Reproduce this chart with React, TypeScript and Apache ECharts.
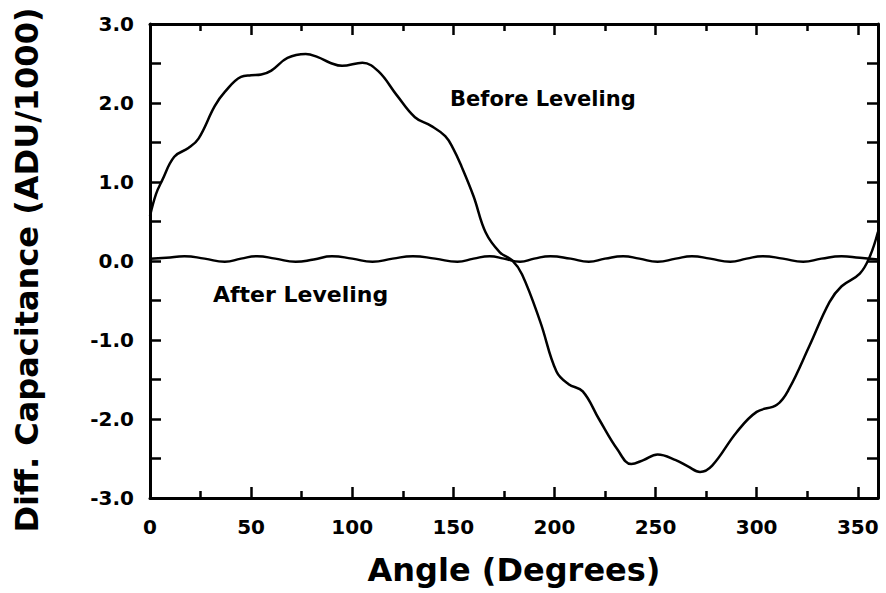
import React, { useEffect, useRef } from "react";
import * as echarts from "echarts";

const beforeAngles = [0, 3, 6, 12, 19, 24, 32, 37, 45, 50, 55, 60, 68, 77, 83, 89, 95, 105, 113, 122, 131, 139, 146, 150, 154, 160, 166, 173, 179, 184, 193, 201, 207, 214, 222, 231, 238, 244, 251, 260, 266, 272, 278, 290, 300, 310, 316, 326, 336, 342, 351, 356, 360];
const beforeValues = [0.57, 0.85, 1.02, 1.32, 1.43, 1.55, 1.96, 2.14, 2.33, 2.35, 2.36, 2.41, 2.57, 2.62, 2.58, 2.51, 2.47, 2.51, 2.40, 2.10, 1.82, 1.71, 1.58, 1.42, 1.20, 0.82, 0.36, 0.11, 0.01, -0.17, -0.77, -1.40, -1.56, -1.65, -2.00, -2.38, -2.57, -2.52, -2.45, -2.52, -2.60, -2.67, -2.59, -2.17, -1.91, -1.82, -1.62, -1.08, -0.52, -0.32, -0.16, 0.06, 0.37];

const afterAngles = [0, 8, 17, 27, 37, 45, 53, 62, 72, 81, 90, 100, 110, 120, 130, 141, 152, 160, 168, 175, 183, 190, 198, 208, 217, 225, 234, 242, 251, 260, 268, 277, 287, 295, 303, 313, 323, 332, 342, 351, 360];
const afterValues = [0.03, 0.04, 0.06, 0.03, -0.01, 0.03, 0.06, 0.03, -0.01, 0.02, 0.06, 0.03, -0.01, 0.03, 0.06, 0.03, -0.01, 0.03, 0.06, 0.03, -0.01, 0.03, 0.06, 0.03, -0.01, 0.03, 0.06, 0.03, -0.01, 0.03, 0.06, 0.03, -0.01, 0.03, 0.06, 0.03, -0.01, 0.03, 0.06, 0.04, 0.02];

const xTitle = "Angle (Degrees)";
const yTitle = "Diff. Capacitance (ADU/1000)";
const beforeLabel = "Before Leveling";
const afterLabel = "After Leveling";

const FONT = "DejaVu Sans";

export default function App() {
  const ref = useRef<HTMLDivElement>(null);
  useEffect(() => {
    document.body.style.margin = "0";
    const chart = echarts.init(ref.current!, null, { renderer: "svg" });
    const axisLine = { show: true, onZero: false, lineStyle: { color: "#000", width: 3 } };
    const xCommon = {
      type: "value" as const,
      min: 0,
      max: 360,
      interval: 50,
      axisLine,
      axisTick: { show: true, inside: true, length: 11, lineStyle: { color: "#000", width: 2.5 } },
      minorTick: { show: true, splitNumber: 2, length: 7, lineStyle: { color: "#000", width: 2.5 } },
      splitLine: { show: false },
      minorSplitLine: { show: false },
    };
    const yCommon = {
      type: "value" as const,
      min: -3,
      max: 3,
      interval: 1,
      axisLine,
      axisTick: { show: true, inside: true, length: 11, lineStyle: { color: "#000", width: 2.5 } },
      minorTick: { show: true, splitNumber: 2, length: 11, lineStyle: { color: "#000", width: 2.5 } },
      splitLine: { show: false },
      minorSplitLine: { show: false },
    };
    chart.setOption({
      animation: false,
      backgroundColor: "#fff",
      grid: { left: 150, right: 8, top: 24, bottom: 95, containLabel: false },
      xAxis: [
        {
          ...xCommon,
          position: "bottom",
          axisLabel: {
            show: true,
            margin: 19,
            fontFamily: FONT,
            fontWeight: "bold",
            fontSize: 20,
            color: "#000",
            showMaxLabel: false,
            formatter: (v: number) => (v % 50 === 0 ? String(v) : ""),
          },
        },
        { ...xCommon, position: "top", axisLabel: { show: false } },
      ],
      yAxis: [
        {
          ...yCommon,
          position: "left",
          axisLabel: {
            show: true,
            margin: 16,
            fontFamily: FONT,
            fontWeight: "bold",
            fontSize: 20,
            color: "#000",
            formatter: (v: number) => v.toFixed(1),
          },
        },
        { ...yCommon, position: "right", axisLabel: { show: false } },
      ],
      series: [
        {
          type: "line",
          name: beforeLabel,
          data: beforeAngles.map((a, i) => [a, beforeValues[i]]),
          smooth: 0.4,
          showSymbol: false,
          lineStyle: { color: "#000", width: 2.5 },
          clip: true,
        },
        {
          type: "line",
          name: afterLabel,
          data: afterAngles.map((a, i) => [a, afterValues[i]]),
          smooth: 0.5,
          showSymbol: false,
          lineStyle: { color: "#000", width: 2.5 },
          clip: true,
        },
      ],
      graphic: [
        {
          type: "text",
          left: 450,
          top: 88,
          style: { text: beforeLabel, fontFamily: FONT, fontWeight: "bold", fontSize: 21, fill: "#000" },
        },
        {
          type: "text",
          left: 213,
          top: 283,
          style: { text: afterLabel, fontFamily: FONT, fontWeight: "bold", fontSize: 22, fill: "#000" },
        },
        {
          type: "text",
          x: 514,
          y: 570,
          style: { text: xTitle, fontFamily: FONT, fontWeight: "bold", fontSize: 32, fill: "#000", align: "center", verticalAlign: "middle" },
        },
        {
          type: "text",
          x: 27,
          y: 270,
          rotation: Math.PI / 2,
          style: { text: yTitle, fontFamily: FONT, fontWeight: "bold", fontSize: 32, fill: "#000", align: "center", verticalAlign: "middle" },
        },
      ],
    });
    return () => chart.dispose();
  }, []);
  return <div ref={ref} style={{ position: "fixed", left: 0, top: 0, width: 886, height: 593 }} />;
}
